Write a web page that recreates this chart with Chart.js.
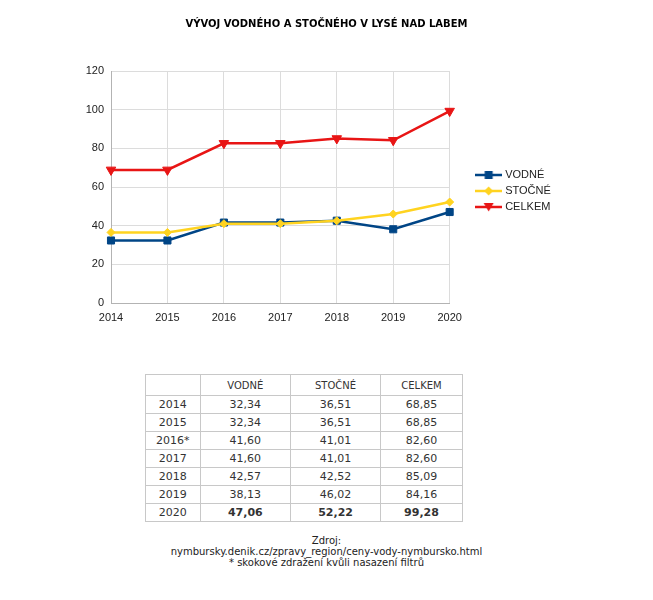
<!DOCTYPE html>
<html lang="cs">
<head>
<meta charset="utf-8">
<title>Vývoj vodného a stočného v Lysé nad Labem</title>
<script src="https://cdn.jsdelivr.net/npm/chart.js@4/dist/chart.umd.min.js"></script>
<style>
  body { margin: 0; background: #fff; }
  #stranka { position: relative; width: 653px; height: 600px; background: #fff; }
  #nadpis {
    position: absolute; left: 0; top: 18px; width: 653px; text-align: center;
    font-family: "DejaVu Sans", Verdana, sans-serif; font-size: 10px; font-weight: bold;
    line-height: 12px; color: #000;
  }
  #obal-grafu { position: absolute; left: 0; top: 0; width: 653px; height: 340px; }
  #tabulka {
    position: absolute; left: 145px; top: 374px; width: 318px;
    border-collapse: collapse; font-family: "DejaVu Sans", Verdana, sans-serif;
    color: #333; font-size: 11px;
  }
  #tabulka td, #tabulka th { border: 1px solid #c8c8c8; padding: 0; text-align: center; }
  #tabulka th { font-weight: normal; font-size: 10px; height: 20px; }
  #tabulka td { height: 17px; }
  #tabulka .tucne { font-weight: bold; }
  #zdroj {
    position: absolute; left: 0; top: 535px; width: 653px; text-align: center;
    font-family: "DejaVu Sans", Verdana, sans-serif; font-size: 10px; line-height: 11px; color: #222;
  }
</style>
</head>
<body>
<div id="stranka">
  <div id="obal-grafu"><canvas id="graf"></canvas></div>
  <div id="nadpis">VÝVOJ VODNÉHO A STOČNÉHO V LYSÉ NAD LABEM</div>
  <table id="tabulka"></table>
  <div id="zdroj">Zdroj:<br>nymbursky.denik.cz/zpravy_region/ceny-vody-nymbursko.html<br>* skokové zdražení kvůli nasazení filtrů</div>
</div>
<script>
// Data z grafu
const roky = ['2014', '2015', '2016', '2017', '2018', '2019', '2020'];
const rokyTabulka = ['2014', '2015', '2016*', '2017', '2018', '2019', '2020'];
const vodne = [32.34, 32.34, 41.60, 41.60, 42.57, 38.13, 47.06];
const stocne = [36.51, 36.51, 41.01, 41.01, 42.52, 46.02, 52.22];
const celkem = [68.85, 68.85, 82.60, 82.60, 85.09, 84.16, 99.28];
const nazvy = ['VODNÉ', 'STOČNÉ', 'CELKEM'];
const osaY = [0, 20, 40, 60, 80, 100, 120];

const barvy = ['#004586', '#ffd320', '#e81515'];
const znacky = ['rect', 'rectRot', 'triangle'];

// Ikona do legendy: čára se značkou uprostřed
function ikonaLegendy(barva, znacka) {
  const c = document.createElement('canvas');
  c.width = 27;
  c.height = 12;
  const g = c.getContext('2d');
  g.strokeStyle = barva;
  g.fillStyle = barva;
  g.lineWidth = 2.5;
  g.beginPath();
  g.moveTo(0, 6);
  g.lineTo(27, 6);
  g.stroke();
  g.beginPath();
  if (znacka === 'rect') {
    g.rect(9.5, 2, 8, 8);
  } else if (znacka === 'rectRot') {
    g.moveTo(13.5, 1.5); g.lineTo(18, 6); g.lineTo(13.5, 10.5); g.lineTo(9, 6);
  } else {
    g.moveTo(8.5, 2); g.lineTo(18.5, 2); g.lineTo(13.5, 10.5);
  }
  g.closePath();
  g.fill();
  return c;
}

const ikony = barvy.map((b, i) => ikonaLegendy(b, znacky[i]));

function dataset(i, hodnoty, polomer, poradi) {
  return {
    label: nazvy[i],
    data: hodnoty,
    yAxisID: 'y',
    borderColor: barvy[i],
    backgroundColor: barvy[i],
    borderWidth: 2.5,
    pointStyle: znacky[i],
    pointRotation: znacky[i] === 'triangle' ? 180 : 0,
    pointRadius: polomer,
    pointHoverRadius: polomer,
    pointBorderWidth: 1,
    tension: 0,
    order: poradi
  };
}

const ctx = document.getElementById('graf').getContext('2d');

new Chart(ctx, {
  type: 'line',
  data: {
    labels: roky,
    datasets: [
      dataset(0, vodne, 5, 2),
      dataset(1, stocne, 4, 1),
      dataset(2, celkem, 5.5, 0)
    ]
  },
  options: {
    responsive: true,
    maintainAspectRatio: false,
    animation: false,
    layout: { padding: { left: 71, right: 100, top: 71, bottom: 7 } },
    plugins: {
      title: { display: false },
      legend: {
        position: 'right',
        align: 'center',
        fullSize: false,
        title: { display: true, text: '', font: { size: 8, lineHeight: 1 }, padding: 0 },
        labels: {
          usePointStyle: true,
          pointStyleWidth: 22,
          padding: 5,
          color: '#222',
          font: { family: '"Liberation Sans", Arial, sans-serif', size: 11 },
          generateLabels: (chart) => chart.data.datasets.map((ds, i) => ({
            text: ds.label,
            pointStyle: ikony[i],
            fillStyle: ds.borderColor,
            strokeStyle: ds.borderColor,
            lineWidth: 0,
            fontColor: '#222',
            hidden: false,
            datasetIndex: i
          }))
        }
      },
      tooltip: { enabled: false }
    },
    scales: {
      x: {
        grid: { color: '#dcdcdc', drawTicks: false },
        border: { color: '#b3b3b3' },
        ticks: {
          color: '#222',
          padding: 8,
          maxRotation: 0,
          font: { family: '"Liberation Sans", Arial, sans-serif', size: 11 }
        },
        afterFit: (s) => { s.height = 30; }
      },
      y: {
        min: osaY[0],
        max: osaY[osaY.length - 1],
        grid: { color: '#dcdcdc', drawTicks: false },
        border: { color: '#b3b3b3' },
        ticks: {
          stepSize: osaY[1] - osaY[0],
          color: '#222',
          padding: 7,
          font: { family: '"Liberation Sans", Arial, sans-serif', size: 11 }
        },
        afterFit: (s) => { s.width = 40; }
      },
      mezera: {
        type: 'linear',
        position: 'right',
        grid: { display: false, drawTicks: false },
        border: { display: false },
        ticks: { display: false },
        afterFit: (s) => { s.width = 23; }
      }
    }
  }
});

// Tabulka pod grafem
const cisla = (v) => v.toFixed(2).replace('.', ',');
let html = '<tr><th style="width:54px"></th>' +
  nazvy.map((n, i) => '<th style="width:' + [91, 90, 82][i] + 'px">' + n + '</th>').join('') + '</tr>';
rokyTabulka.forEach((rok, i) => {
  const posledni = i === rokyTabulka.length - 1 ? ' class="tucne"' : '';
  html += '<tr><td>' + rok + '</td>' +
    [vodne[i], stocne[i], celkem[i]].map((v) => '<td' + posledni + '>' + cisla(v) + '</td>').join('') + '</tr>';
});
document.getElementById('tabulka').innerHTML = html;
</script>
</body>
</html>
